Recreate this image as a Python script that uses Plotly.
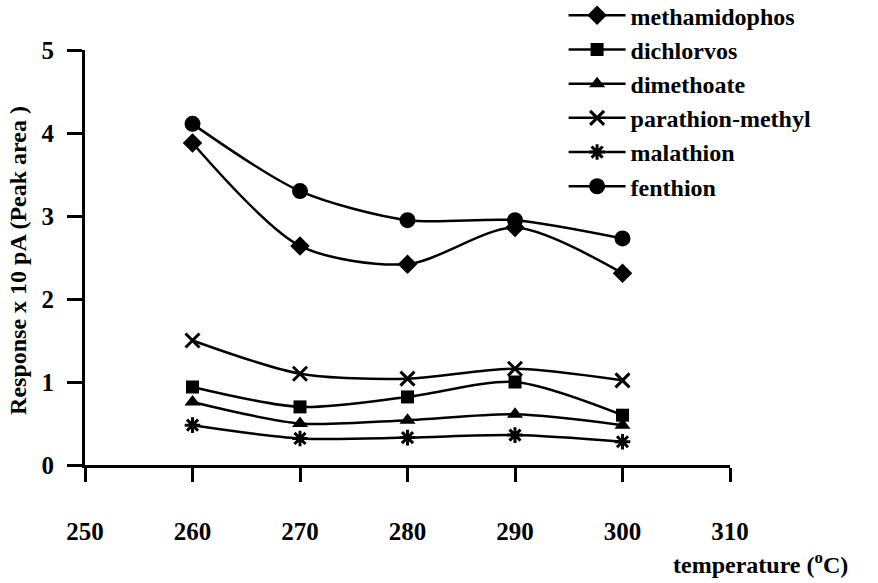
import plotly.graph_objects as go

# Injector temperature (°C)
temperature = [260, 270, 280, 290, 300]

# Detector response (x 10 pA, peak area) for each pesticide
methamidophos = [3.88, 2.64, 2.42, 2.86, 2.31]
dichlorvos = [0.94, 0.70, 0.82, 1.00, 0.60]
dimethoate = [0.76, 0.50, 0.54, 0.61, 0.48]
parathion_methyl = [1.50, 1.10, 1.04, 1.16, 1.02]
malathion = [0.48, 0.32, 0.33, 0.36, 0.28]
fenthion = [4.11, 3.30, 2.95, 2.95, 2.73]

x_ticks = [250, 260, 270, 280, 290, 300, 310]
y_ticks = [0, 1, 2, 3, 4, 5]

FONT = "Liberation Serif"

series = [
    ("methamidophos", methamidophos, "diamond", 15, 0),
    ("dichlorvos", dichlorvos, "square", 13, 0),
    ("dimethoate", dimethoate, "triangle-up", 14, 0),
    ("parathion-methyl", parathion_methyl, "x-thin", 14, 3),
    ("malathion", malathion, "asterisk", 13, 3),
    ("fenthion", fenthion, "circle", 16, 0),
]

fig = go.Figure()
for name, values, symbol, size, lw in series:
    fig.add_trace(go.Scatter(
        x=temperature, y=values, name=name,
        mode="lines+markers",
        line=dict(color="black", width=2.5, shape="spline", smoothing=0.8),
        marker=dict(symbol=symbol, size=size, color="black",
                    line=dict(color="black", width=lw)),
    ))

fig.update_layout(
    width=878, height=583,
    margin=dict(l=85, r=148, t=50, b=118, autoexpand=False),
    paper_bgcolor="white", plot_bgcolor="white",
    font=dict(family=FONT, size=25, color="black"),
    showlegend=True,
    legend=dict(
        x=0.742, y=1.137, xanchor="left", yanchor="top",
        font=dict(family=FONT, size=24, color="black", weight="bold"),
        bgcolor="rgba(0,0,0,0)", itemwidth=57,
        tracegroupgap=0,
    ),
    xaxis=dict(
        range=[250, 310], tickvals=x_ticks, ticktext=[str(v) for v in x_ticks],
        showline=True, linewidth=3, linecolor="black",
        ticks="outside", ticklen=14, tickwidth=3, tickcolor="black",
        showgrid=False, zeroline=False,
        tickfont=dict(family=FONT, size=25, color="black", weight="bold"),
        ticklabelstandoff=28,
    ),
    yaxis=dict(
        range=[0, 5], tickvals=y_ticks, ticktext=[str(v) for v in y_ticks],
        showline=True, linewidth=3, linecolor="black",
        ticks="outside", ticklen=15, tickwidth=3, tickcolor="black",
        showgrid=False, zeroline=False,
        tickfont=dict(family=FONT, size=25, color="black", weight="bold"),
        ticklabelstandoff=8,
    ),
    annotations=[
        dict(text="<b>Response x 10 pA (Peak area )</b>", textangle=-90,
             xref="paper", yref="paper", x=-0.104, y=0.494,
             xanchor="center", yanchor="middle", showarrow=False,
             font=dict(family=FONT, size=24, color="black")),
        dict(text="<b>temperature (<sup>o</sup>C)</b>",
             xref="paper", yref="paper", x=1.048, y=-0.236,
             xanchor="center", yanchor="middle", showarrow=False,
             font=dict(family=FONT, size=24, color="black")),
    ],
)

fig.write_html("out.html")
